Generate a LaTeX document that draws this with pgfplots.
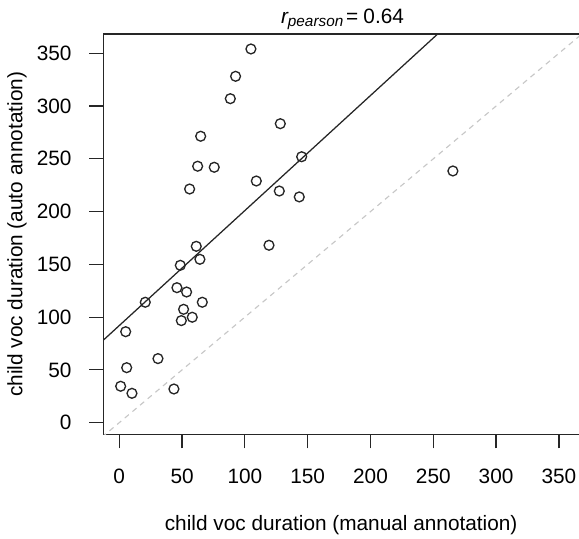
\documentclass[border=0pt]{standalone}
\usepackage{fontspec}
\setmainfont{Liberation Sans}
\usepackage{pgfplots}
\usepackage{pgfplotstable}
\pgfplotsset{compat=1.18}
\usetikzlibrary{calc}

% child vocalisation duration: manual vs automatic annotation
\pgfplotstableread{
manual auto
104.8 354.1
92.6  328.2
88.4  307.0
128.2 283.3
64.8  271.4
145.2 252.0
62.4  243.0
75.6  242.0
109.1 229.0
56.0  221.4
127.4 219.5
143.3 213.9
265.6 238.5
61.3  167.1
119.2 168.1
48.6  149.1
64.2  154.8
45.9  127.9
53.6  123.8
20.7  114.1
66.1  114.1
51.2  107.4
49.4  96.7
58.1  99.9
5.1   86.2
30.8  60.7
5.9   52.1
1.1   34.5
10.1  27.8
43.5  31.9
}\voctable

\newcommand{\mainfs}{\fontsize{15.6}{18}\selectfont}

\begin{document}
\mainfs
\begin{tikzpicture}
\begin{axis}[
  name=ax,
  scale only axis,
  width=356.8pt, height=300.4pt,
  xmin=-12.7, xmax=366, ymin=-11.2, ymax=368.3,
  axis x line*=box,
  axis y line*=left,
  axis line style={black!85, line width=0.9pt},
  xtick={0,50,...,350}, ytick={0,50,...,350},
  xtick pos=bottom, ytick pos=left,
  tick align=outside,
  major tick length=10.5pt,
  tick style={black!85, line width=0.9pt},
  /pgf/number format/assume math mode=true,
  tick label style={font=\mainfs},
  xticklabel style={anchor=base, yshift=-26pt},
  yticklabel style={anchor=east, xshift=-8pt},
  label style={font=\mainfs},
  xlabel={child voc duration (manual annotation)},
  ylabel={child voc duration (auto annotation)},
  xlabel style={at={(axis description cs:0.5,0)}, anchor=base, yshift=-72.4pt},
  ylabel style={at={(axis description cs:-0.1814,0.5)}, anchor=center},
  title={{\itshape r}\raisebox{-2.5pt}{\fontsize{11.5}{12}\selectfont\itshape pearson}\hspace{2pt}=\hspace{4pt}0.64},
  title style={font=\mainfs, at={(axis description cs:0.5,1)}, anchor=base, yshift=2pt, xshift=1pt},
  clip=true,
]
% identity line
\addplot[black!22, line width=0.85pt, dash pattern=on 4pt off 3.5pt]
  coordinates {(-20,-20) (400,400)};
% least-squares fit
\addplot[black!85, line width=0.95pt]
  coordinates {(-20,70.2) (300,419)};
% observations
\addplot[only marks, mark=o, mark size=3.7pt,
  mark options={black!85, line width=1pt}]
  table[x=manual, y=auto] {\voctable};
\end{axis}
\pgfresetboundingbox
\path[use as bounding box] ($(ax.south west)+(-77.5pt,-78.375pt)$) rectangle ($(ax.north east)+(0pt,25.5pt)$);
\end{tikzpicture}
\end{document}
